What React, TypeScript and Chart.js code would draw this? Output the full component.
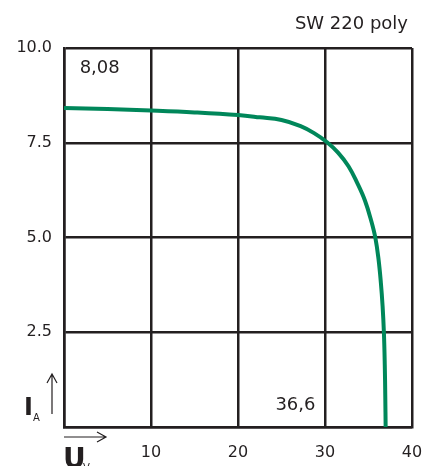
import React, { useEffect, useRef } from "react";
import { Chart, registerables } from "chart.js";

Chart.register(...registerables);

// I-V curve of the module (voltage in V, current in A)
const voltage = [0, 5, 10, 15, 20, 22.5, 25, 27.2, 28.7, 30.2, 31.5, 32.7, 33.7, 34.6, 35.3, 35.8, 36.15, 36.42, 36.62, 36.77, 36.87, 36.93, 36.97];
const current = [8.42, 8.39, 8.35, 8.3, 8.23, 8.17, 8.1, 7.94, 7.76, 7.52, 7.24, 6.88, 6.44, 5.97, 5.45, 4.98, 4.43, 3.81, 3.19, 2.5, 1.65, 0.78, 0];

const xTicks = [0, 10, 20, 30, 40];
const yTicks = [0, 2.5, 5, 7.5, 10];

const chartTitle = "SW 220 poly";
const noteTexts = ["8,08", "36,6"];
const noteX = [4.1, 26.6];
const noteY = [9.47, 0.58];

const INK = "#231f20";
const GREEN = "#00875a";
const FONT = '"DejaVu Sans", sans-serif';

const decorPlugin = {
  id: "decor",
  afterDraw(chart: any) {
    const { ctx, chartArea, scales } = chart;
    const xs = scales.x;
    const ys = scales.y;
    ctx.save();
    ctx.fillStyle = INK;
    ctx.strokeStyle = INK;

    // title
    ctx.font = `18px ${FONT}`;
    ctx.textAlign = "right";
    ctx.textBaseline = "alphabetic";
    ctx.fillText(chartTitle, chartArea.right - 4, 29);

    // value notes
    ctx.font = `18px ${FONT}`;
    ctx.textAlign = "center";
    ctx.textBaseline = "middle";
    noteTexts.forEach((t, i) => {
      ctx.fillText(t, xs.getPixelForValue(noteX[i]), ys.getPixelForValue(noteY[i]));
    });

    // I_A label with up arrow
    const L = chartArea.left;
    const B = chartArea.bottom;
    ctx.textAlign = "left";
    ctx.textBaseline = "alphabetic";
    ctx.font = `bold 24px ${FONT}`;
    ctx.fillText("I", L - 40, B - 12);
    ctx.font = `10px ${FONT}`;
    ctx.fillText("A", L - 31, B - 6);

    ctx.lineWidth = 1.2;
    const ax = L - 12;
    ctx.beginPath();
    ctx.moveTo(ax, B - 13);
    ctx.lineTo(ax, B - 53);
    ctx.moveTo(ax - 5, B - 44);
    ctx.lineTo(ax, B - 53);
    ctx.lineTo(ax + 5, B - 44);
    ctx.stroke();

    // U_V label with right arrow
    const ay = B + 10;
    ctx.beginPath();
    ctx.moveTo(L, ay);
    ctx.lineTo(L + 42, ay);
    ctx.moveTo(L + 33, ay - 5);
    ctx.lineTo(L + 42, ay);
    ctx.lineTo(L + 33, ay + 5);
    ctx.stroke();

    ctx.font = `bold 28px ${FONT}`;
    ctx.fillText("U", L - 1, B + 41);
    ctx.font = `10px ${FONT}`;
    ctx.fillText("V", L + 19, B + 44);

    ctx.restore();
  },
};

export default function App() {
  const ref = useRef<HTMLCanvasElement | null>(null);

  useEffect(() => {
    document.body.style.margin = "0";
    if (!ref.current) return;
    const chart = new Chart(ref.current, {
      type: "line",
      data: {
        datasets: [
          {
            data: voltage.map((v, i) => ({ x: v, y: current[i] })),
            borderColor: GREEN,
            borderWidth: 4,
            pointRadius: 0,
            fill: false,
            tension: 0.4,
          },
        ],
      },
      options: {
        responsive: false,
        animation: false,
        layout: { padding: { top: 48, right: 13, left: 0, bottom: 0 } },
        plugins: {
          legend: { display: false },
          tooltip: { enabled: false },
          title: { display: false },
        },
        scales: {
          x: {
            type: "linear",
            min: 0,
            max: 40,
            afterBuildTicks: (axis: any) => {
              axis.ticks = xTicks.map((v) => ({ value: v }));
            },
            afterFit: (axis: any) => {
              axis.height = 39;
              axis.paddingLeft = 0;
              axis.paddingRight = 0;
            },
            ticks: {
              color: INK,
              font: { family: FONT, size: 16 },
              padding: 16,
              maxRotation: 0,
              callback: (v: any) => (v === 0 ? "" : String(v)),
            },
            grid: { color: INK, lineWidth: 2.5, drawTicks: false },
            border: { display: true, color: INK, width: 2.5 },
          },
          y: {
            type: "linear",
            min: 0,
            max: 10,
            afterBuildTicks: (axis: any) => {
              axis.ticks = yTicks.map((v) => ({ value: v }));
            },
            afterFit: (axis: any) => {
              axis.width = 64;
            },
            ticks: {
              color: INK,
              font: { family: FONT, size: 16 },
              padding: 12,
              callback: (v: any) => (v === 0 ? "" : Number(v).toFixed(1)),
            },
            grid: { color: INK, lineWidth: 2.5, drawTicks: false },
            border: { display: true, color: INK, width: 2.5 },
          },
        },
      },
      plugins: [decorPlugin],
    } as any);
    return () => chart.destroy();
  }, []);

  return (
    <div style={{ width: 425, height: 466, background: "#fff" }}>
      <canvas ref={ref} width={425} height={466} style={{ display: "block" }} />
    </div>
  );
}
